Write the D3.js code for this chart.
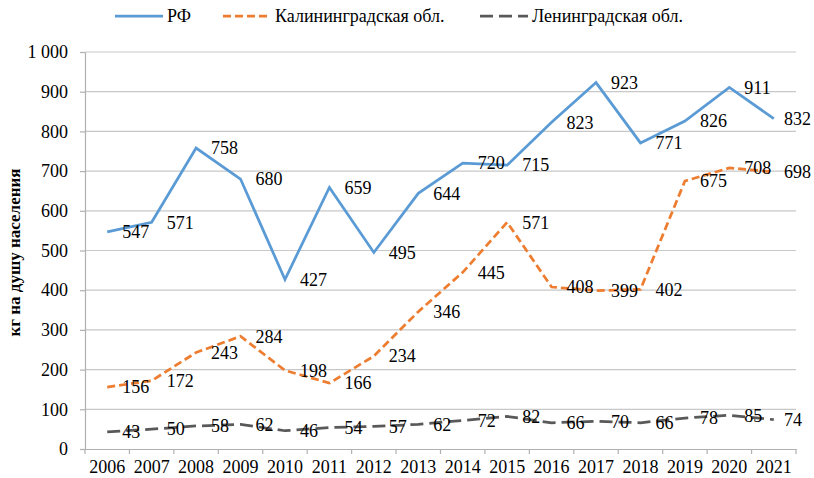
<!DOCTYPE html>
<meta charset="utf-8">
<style>
 body { margin: 0; background: #fff; }
 svg { display: block; }
 text { font-family: "Liberation Serif", "Times New Roman", serif; fill: #000; }
 .grid line { stroke: #c8c8c8; stroke-width: 1.2px; }
 .axis path, .axis line { stroke: #b0b0b0; stroke-width: 1.2px; }
</style>
<svg width="814" height="478"></svg>
<script src="https://d3js.org/d3.v7.min.js"></script>
<script>

 var years = ["2006","2007","2008","2009","2010","2011","2012","2013","2014","2015","2016","2017","2018","2019","2020","2021"];
 var rf = [547, 571, 758, 680, 427, 659, 495, 644, 720, 715, 823, 923, 771, 826, 911, 832];
 var kaliningrad = [156, 172, 243, 284, 198, 166, 234, 346, 445, 571, 408, 399, 402, 675, 708, 698];
 var leningrad = [43, 50, 58, 62, 46, 54, 57, 62, 72, 82, 66, 70, 66, 78, 85, 74];
 var yTicks = [0, 100, 200, 300, 400, 500, 600, 700, 800, 900, 1000];

 var series = [
   { name: "РФ", values: rf, color: "#5b9bd5", dash: null },
   { name: "Калининградская обл.", values: kaliningrad, color: "#ed7d31", dash: "8,4" },
   { name: "Ленинградская обл.", values: leningrad, color: "#595959", dash: "13,6" }
 ];

 var svg = d3.select("svg"),
     mLeft = 85, mRight = 796, mTop = 52, mBottom = 449;

 var x = d3.scaleBand().domain(years).range([mLeft, mRight]);
 var y = d3.scaleLinear().domain([0, 1000]).range([mBottom, mTop]);

 function fmt(v) { return v >= 1000 ? d3.format(",")(v).replace(",", " ") : String(v); }

 // gridlines
 svg.append("g").attr("class", "grid")
   .selectAll("line").data(yTicks.slice(1)).enter().append("line")
   .attr("x1", mLeft).attr("x2", mRight)
   .attr("y1", function(d) { return y(d); }).attr("y2", function(d) { return y(d); });

 // y axis
 var yAxis = svg.append("g").attr("class", "axis")
   .attr("transform", "translate(" + mLeft + ",0)")
   .call(d3.axisLeft(y).tickValues(yTicks).tickFormat(fmt).tickSize(5).tickSizeOuter(0).tickPadding(12));
 yAxis.selectAll("text").style("font-size", "18px");

 // x axis, ticks at band boundaries
 var xAxis = svg.append("g").attr("class", "axis")
   .attr("transform", "translate(0," + mBottom + ")")
   .call(d3.axisBottom(x).tickSize(0).tickPadding(11));
 xAxis.selectAll("text").style("font-size", "18px");
 xAxis.selectAll(".bound").data(years.concat(["end"])).enter().append("line")
   .attr("class", "bound")
   .attr("x1", function(d, i) { return mLeft + i * x.bandwidth(); })
   .attr("x2", function(d, i) { return mLeft + i * x.bandwidth(); })
   .attr("y1", 0).attr("y2", 5);
 svg.selectAll(".axis").attr("font-family", null).attr("font-size", null);

 // y title
 svg.append("text")
   .attr("transform", "translate(20," + ((mTop + mBottom) / 2 + 2) + ") rotate(-90)")
   .attr("text-anchor", "middle")
   .style("font-size", "17px").style("font-weight", "bold")
   .text("кг на душу населения");

 var cx = function(i) { return x(years[i]) + x.bandwidth() / 2; };
 var line = d3.line()
   .x(function(d, i) { return cx(i); })
   .y(function(d) { return y(d); });

 series.forEach(function(s) {
   svg.append("path")
     .datum(s.values)
     .attr("fill", "none")
     .attr("stroke", s.color)
     .attr("stroke-width", 2.75)
     .attr("stroke-dasharray", s.dash)
     .attr("d", line);
 });

 // data labels to the right of each point
 series.forEach(function(s) {
   svg.append("g").selectAll("text").data(s.values).enter().append("text")
     .attr("x", function(d, i) { return Math.min(cx(i) + 15, 811 - 27); })
     .attr("y", function(d) { return y(d); })
     .attr("dy", "0.35em")
     .style("font-size", "18px")
     .text(function(d) { return d; });
 });

 // legend
 var legendX = [115, 223, 480];
 var lg = svg.append("g").selectAll("g").data(series).enter().append("g")
   .attr("transform", function(d, i) { return "translate(" + legendX[i] + ",16)"; });
 lg.append("line")
   .attr("x1", 0).attr("x2", 48).attr("y1", 0).attr("y2", 0)
   .attr("stroke", function(d) { return d.color; })
   .attr("stroke-width", 2.75)
   .attr("stroke-dasharray", function(d) { return d.dash; });
 lg.append("text")
   .attr("x", 52).attr("dy", "0.35em")
   .style("font-size", "18px")
   .text(function(d) { return d.name; });
</script>
